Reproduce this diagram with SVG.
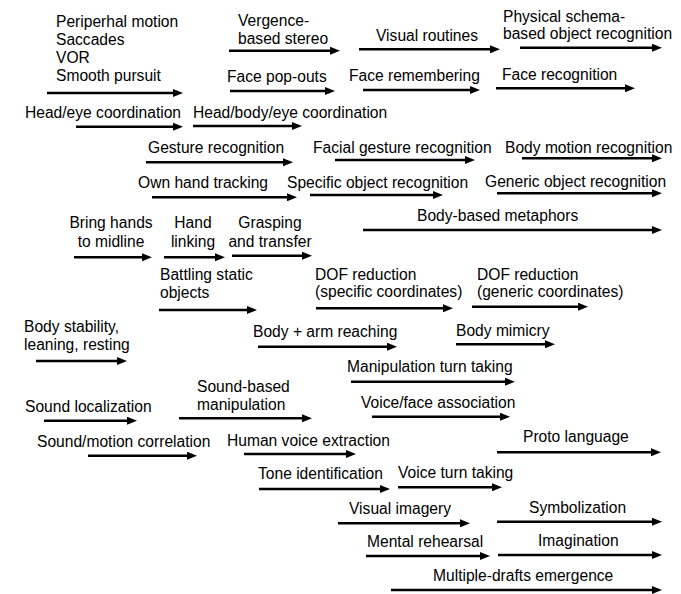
<svg xmlns="http://www.w3.org/2000/svg" width="681" height="594" viewBox="0 0 681 594">
<defs>
<marker id="ah" markerUnits="userSpaceOnUse" markerWidth="10" markerHeight="8" viewBox="0 0 10 8" refX="1" refY="4" orient="auto">
<path d="M0,0 L10,4 L0,8 z" fill="#000"/>
</marker>
<style>
text{font-family:"Liberation Sans",Arial,Helvetica,sans-serif;font-size:15.6px;fill:#000}
.c{text-anchor:middle}
line{stroke:#000;stroke-width:2.5;marker-end:url(#ah)}
</style>
</defs>
<rect width="681" height="594" fill="#fff"/>
<g id="labels">
<g id="n1"><text x="56" y="26.5">Periperhal motion</text><text x="56" y="44.5">Saccades</text><text x="56" y="63">VOR</text><text x="56" y="81">Smooth pursuit</text></g>
<g id="n2"><text x="25" y="118">Head/eye coordination</text></g>
<g id="n3"><text x="193" y="118">Head/body/eye coordination</text></g>
<g id="n4"><text x="238" y="26">Vergence-</text><text x="238" y="43.5">based stereo</text></g>
<g id="n5"><text x="227" y="81.5">Face pop-outs</text></g>
<g id="n6"><text x="376" y="40.5">Visual routines</text></g>
<g id="n7"><text x="503" y="21.5">Physical schema-</text><text x="503" y="38.5">based object recognition</text></g>
<g id="n8"><text x="349" y="81">Face remembering</text></g>
<g id="n9"><text x="502" y="80">Face recognition</text></g>
<g id="n10"><text x="148" y="153">Gesture recognition</text></g>
<g id="n11"><text x="313" y="153">Facial gesture recognition</text></g>
<g id="n12"><text x="505" y="152.5">Body motion recognition</text></g>
<g id="n13"><text x="138" y="188">Own hand tracking</text></g>
<g id="n14"><text x="287" y="188">Specific object recognition</text></g>
<g id="n15"><text x="485" y="186.5">Generic object recognition</text></g>
<g id="n16"><text x="417" y="221">Body-based metaphors</text></g>
<g id="n17"><text class="c" x="111" y="228.3">Bring hands</text><text class="c" x="111" y="246.7">to midline</text></g>
<g id="n18"><text class="c" x="193" y="228.3">Hand</text><text class="c" x="193" y="246.7">linking</text></g>
<g id="n19"><text class="c" x="270" y="228.3">Grasping</text><text class="c" x="270" y="246.7">and transfer</text></g>
<g id="n20"><text x="160" y="280">Battling static</text><text x="160" y="298">objects</text></g>
<g id="n21"><text x="315" y="280">DOF reduction</text><text x="315" y="297">(specific coordinates)</text></g>
<g id="n22"><text x="477" y="280">DOF reduction</text><text x="477" y="297">(generic coordinates)</text></g>
<g id="n23"><text x="24" y="331.7">Body stability,</text><text x="24" y="350">leaning, resting</text></g>
<g id="n24"><text x="253" y="337">Body + arm reaching</text></g>
<g id="n25"><text x="456" y="336">Body mimicry</text></g>
<g id="n26"><text x="347" y="371.7">Manipulation turn taking</text></g>
<g id="n27"><text x="361" y="408">Voice/face association</text></g>
<g id="n28"><text x="25" y="411.7">Sound localization</text></g>
<g id="n29"><text x="197" y="391.7">Sound-based</text><text x="197" y="410">manipulation</text></g>
<g id="n30"><text x="37" y="446.7">Sound/motion correlation</text></g>
<g id="n31"><text x="227" y="446">Human voice extraction</text></g>
<g id="n32"><text x="523" y="441.7">Proto language</text></g>
<g id="n33"><text x="258" y="479">Tone identification</text></g>
<g id="n34"><text x="398" y="478.3">Voice turn taking</text></g>
<g id="n35"><text x="349" y="514">Visual imagery</text></g>
<g id="n36"><text x="529" y="513">Symbolization</text></g>
<g id="n37"><text x="367" y="546.7">Mental rehearsal</text></g>
<g id="n38"><text x="538" y="545.7">Imagination</text></g>
<g id="n39"><text x="433" y="581">Multiple-drafts emergence</text></g>
</g>
<g id="connectors">
<line x1="47" y1="93" x2="174" y2="93"/>
<line x1="76" y1="126.7" x2="174" y2="126.7"/>
<line x1="193" y1="126" x2="293" y2="126"/>
<line x1="229" y1="50.7" x2="331" y2="50.7"/>
<line x1="230" y1="91" x2="326" y2="91"/>
<line x1="359" y1="49.3" x2="491" y2="49.3"/>
<line x1="520" y1="47.7" x2="653" y2="47.7"/>
<line x1="363" y1="90" x2="471" y2="90"/>
<line x1="496" y1="88.3" x2="626" y2="88.3"/>
<line x1="146" y1="162.3" x2="284" y2="162.3"/>
<line x1="335" y1="160" x2="466" y2="160"/>
<line x1="522" y1="158.3" x2="653" y2="158.3"/>
<line x1="152" y1="197.3" x2="288" y2="197.3"/>
<line x1="310" y1="195" x2="434" y2="195"/>
<line x1="497" y1="193.3" x2="653" y2="193.3"/>
<line x1="363" y1="230" x2="653" y2="230"/>
<line x1="74" y1="257.3" x2="143" y2="257.3"/>
<line x1="164" y1="257.3" x2="216" y2="257.3"/>
<line x1="232" y1="255.7" x2="303" y2="255.7"/>
<line x1="159" y1="310" x2="248" y2="310"/>
<line x1="316" y1="308.3" x2="444" y2="308.3"/>
<line x1="472" y1="306.7" x2="579" y2="306.7"/>
<line x1="36" y1="361" x2="118" y2="361"/>
<line x1="258" y1="346.7" x2="388" y2="346.7"/>
<line x1="456" y1="344.3" x2="546" y2="344.3"/>
<line x1="351" y1="381.7" x2="506" y2="381.7"/>
<line x1="372" y1="416.7" x2="501" y2="416.7"/>
<line x1="44" y1="420.7" x2="128" y2="420.7"/>
<line x1="179" y1="418.3" x2="303" y2="418.3"/>
<line x1="88" y1="455.7" x2="188" y2="455.7"/>
<line x1="244" y1="454" x2="347" y2="454"/>
<line x1="497" y1="452.3" x2="652" y2="452.3"/>
<line x1="259" y1="489" x2="381" y2="489"/>
<line x1="398" y1="487.3" x2="493" y2="487.3"/>
<line x1="338" y1="523.3" x2="461" y2="523.3"/>
<line x1="497" y1="521.7" x2="653" y2="521.7"/>
<line x1="366" y1="556" x2="481" y2="556"/>
<line x1="498" y1="555" x2="653" y2="555"/>
<line x1="391" y1="590" x2="653" y2="590"/>
</g>
</svg>
